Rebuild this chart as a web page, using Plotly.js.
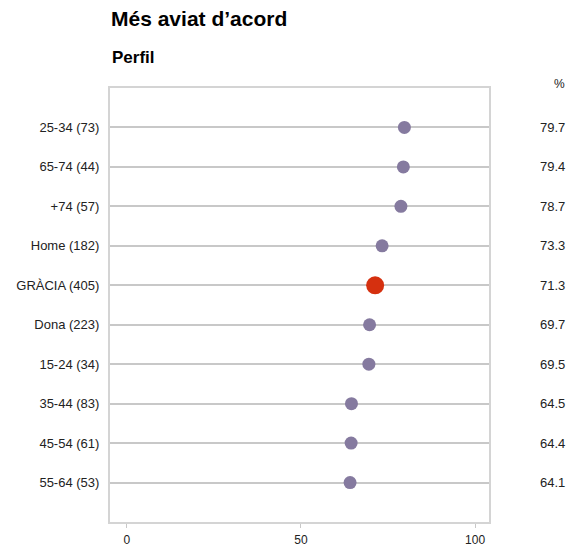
<!DOCTYPE html>
<html>
<head>
<meta charset="utf-8">
<script src="https://cdn.plot.ly/plotly-3.0.1.min.js"></script>
<style>html,body{margin:0;padding:0;background:#fff}#chart{width:570px;height:549px}</style>
</head>
<body>
<div id="chart"></div>
<script>
const categories = ["25-34 (73)", "65-74 (44)", "+74 (57)", "Home (182)", "GRÀCIA (405)", "Dona (223)", "15-24 (34)", "35-44 (83)", "45-54 (61)", "55-64 (53)"];
const values = [79.7, 79.4, 78.7, 73.3, 71.3, 69.7, 69.5, 64.5, 64.4, 64.1];
const highlight = [false, false, false, false, true, false, false, false, false, false];
const xTicks = [0, 50, 100];

const purple = "#857a9f";
const red = "#d5300f";
const FONT = "Liberation Sans, Arial, sans-serif";

const trace = {
  type: "scatter",
  mode: "markers",
  x: values,
  y: categories,
  marker: {
    color: highlight.map(h => h ? red : purple),
    size: highlight.map(h => h ? 18 : 13),
    opacity: 1,
    line: {width: 0}
  },
  hoverinfo: "x+y",
  cliponaxis: false
};

const annotations = [
  {xref: "paper", yref: "paper", x: 0, y: 1, yshift: 31, xanchor: "left", yanchor: "middle",
   text: "<b>Perfil</b>", showarrow: false, font: {size: 17, color: "#000", family: FONT}},
  {xref: "paper", yref: "paper", x: 1, xshift: 78, y: 1, yshift: 4, xanchor: "right", yanchor: "middle",
   text: "%", showarrow: false, font: {size: 12, color: "#222", family: FONT}}
];
categories.forEach((c, i) => {
  annotations.push({xref: "paper", yref: "y", x: 1, xshift: 78, y: c, xanchor: "right", yanchor: "middle",
    text: values[i].toFixed(1), showarrow: false, font: {size: 13, color: "#222", family: FONT}});
});

const layout = {
  width: 570, height: 549,
  margin: {l: 110, r: 81, t: 88, b: 27},
  paper_bgcolor: "#fff", plot_bgcolor: "#fff",
  showlegend: false,
  font: {family: FONT, size: 13, color: "#222"},
  title: {text: "<b>Més aviat d’acord</b>", xref: "container", yref: "container", x: 111/570, xanchor: "left",
          y: 1 - 19/549, yanchor: "middle", font: {size: 21, color: "#000", family: FONT}},
  xaxis: {range: [-4.85, 104.0], tickvals: xTicks, ticktext: xTicks.map(String), showgrid: false, zeroline: false,
          showline: true, mirror: true, linecolor: "#d4d4d4", linewidth: 2,
          ticks: "outside", ticklen: 4, tickcolor: "#c8c8c8", tickwidth: 1, ticklabelstandoff: 2,
          tickfont: {size: 12, color: "#222"}, fixedrange: true},
  yaxis: {type: "category", categoryorder: "array", categoryarray: categories, autorange: false,
          range: [categories.length, -1],
          showgrid: true, gridcolor: "#c8c8c8", gridwidth: 2, zeroline: false,
          showline: true, mirror: true, linecolor: "#d4d4d4", linewidth: 2, ticks: "", ticklabelstandoff: 6,
          tickfont: {size: 13, color: "#222"}, fixedrange: true},
  annotations: annotations
};

Plotly.newPlot("chart", [trace], layout, {displayModeBar: false, staticPlot: true});
</script>
</body>
</html>
